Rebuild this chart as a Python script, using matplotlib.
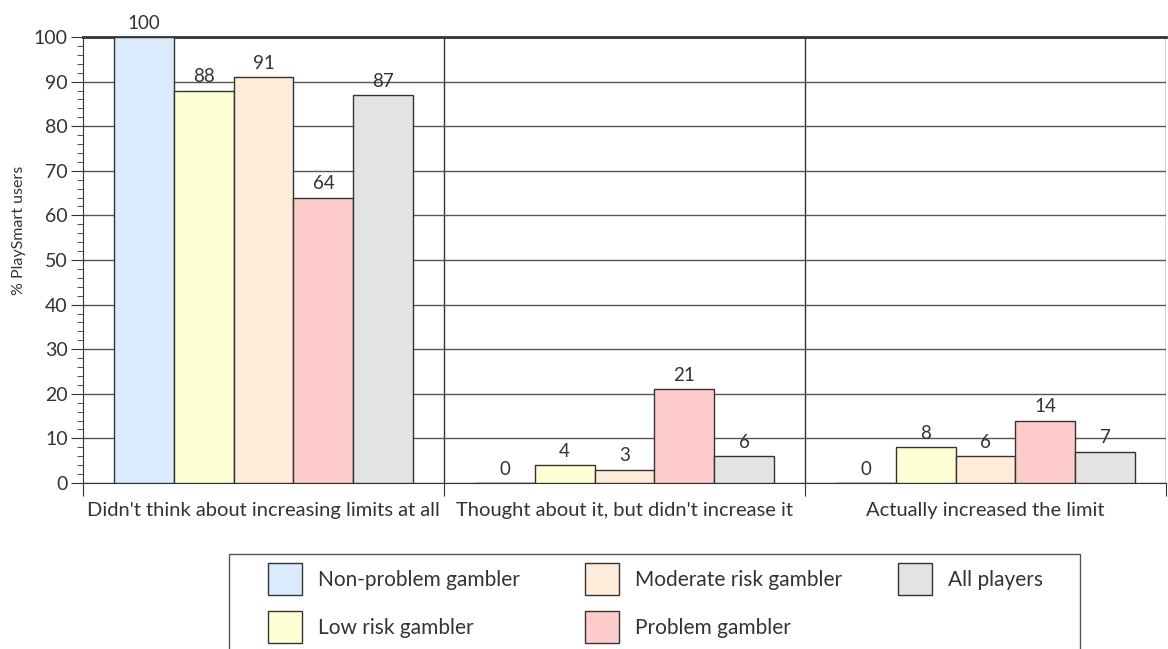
import matplotlib.pyplot as plt
from matplotlib.patches import Rectangle
from matplotlib.ticker import MultipleLocator

plt.rcParams['font.family'] = ['Lato', 'DejaVu Sans']

categories = ["Didn't think about increasing limits at all",
              "Thought about it, but didn't increase it",
              "Actually increased the limit"]
groups = ["Non-problem gambler", "Low risk gambler", "Moderate risk gambler",
          "Problem gambler", "All players"]
values = {
    "Non-problem gambler": [100, 0, 0],
    "Low risk gambler": [88, 4, 8],
    "Moderate risk gambler": [91, 3, 6],
    "Problem gambler": [64, 21, 14],
    "All players": [87, 6, 7],
}
colors = ['#d9ebfc', '#ffffd6', '#ffebd9', '#ffcccc', '#e3e3e3']
txt = '#333333'

fig = plt.figure(figsize=(11.68, 6.49), dpi=100)
ax = fig.add_axes([83/1168, 1-483/649, (1166-83)/1168, (483-37)/649])

w = 0.166
handles = []
for j, g in enumerate(groups):
    xs = [i + 0.5 + (j - 2) * w for i in range(len(categories))]
    bars = ax.bar(xs, values[g], width=w, color=colors[j], edgecolor='#333333',
                  linewidth=1, label=g, zorder=3)
    handles.append(bars)
    for b, v in zip(bars, values[g]):
        ax.annotate(str(v), (b.get_x() + w/2, v), xytext=(0, 6), textcoords='offset points',
                    ha='center', va='baseline', fontsize=13.5, color=txt, zorder=4)

ax.set_xlim(0, 3)
ax.set_ylim(0, 100)
ax.yaxis.set_major_locator(MultipleLocator(10))
ax.yaxis.set_minor_locator(MultipleLocator(2))
ax.grid(axis='y', color='#555555', linewidth=1, zorder=0)
for x in [1, 2, 3]:
    ax.axvline(x, color='#333333', linewidth=1, zorder=1)
ax.set_xticks([0, 1, 2, 3])
ax.set_xticklabels([])
ax.set_xticks([0.5, 1.5, 2.5], minor=True)
ax.set_xticklabels(categories, minor=True, fontsize=14.5, color=txt)
ax.tick_params(axis='x', which='minor', length=0, pad=14)
ax.tick_params(axis='x', which='major', length=9, color='#333333')
ax.tick_params(axis='y', which='major', length=9, labelsize=14, colors=txt, pad=2)
ax.tick_params(axis='y', which='minor', length=4, color='#333333')
for s in ['left', 'bottom', 'top']:
    ax.spines[s].set_color('#333333')
ax.spines['top'].set_linewidth(2)
ax.spines['right'].set_visible(False)

# y label sits a bit above the axis centre in the original
fig.text(19/1168, 1-230/649, '% PlaySmart users', rotation=90, fontsize=11.5,
         color=txt, ha='center', va='center')

# legend frame (bottom edge runs off the figure)
fig.patches.append(Rectangle((229/1168, -0.05), (1080-229)/1168, 0.05 + 1-554/649,
                             transform=fig.transFigure, fill=False,
                             edgecolor='#555555', linewidth=1))
col_x = [268, 585, 898]
cols = [[0, 1], [2, 3], [4]]
for cx, idx in zip(col_x, cols):
    fig.legend([handles[i] for i in idx], [groups[i] for i in idx],
               loc='upper left', bbox_to_anchor=(cx/1168, 1-563/649),
               frameon=False, fontsize=15, handlelength=1.63, handleheight=1.99,
               handletextpad=0.75, labelspacing=0.77, borderpad=0, borderaxespad=0,
               labelcolor=txt)

fig.savefig('out.png', dpi=100)
